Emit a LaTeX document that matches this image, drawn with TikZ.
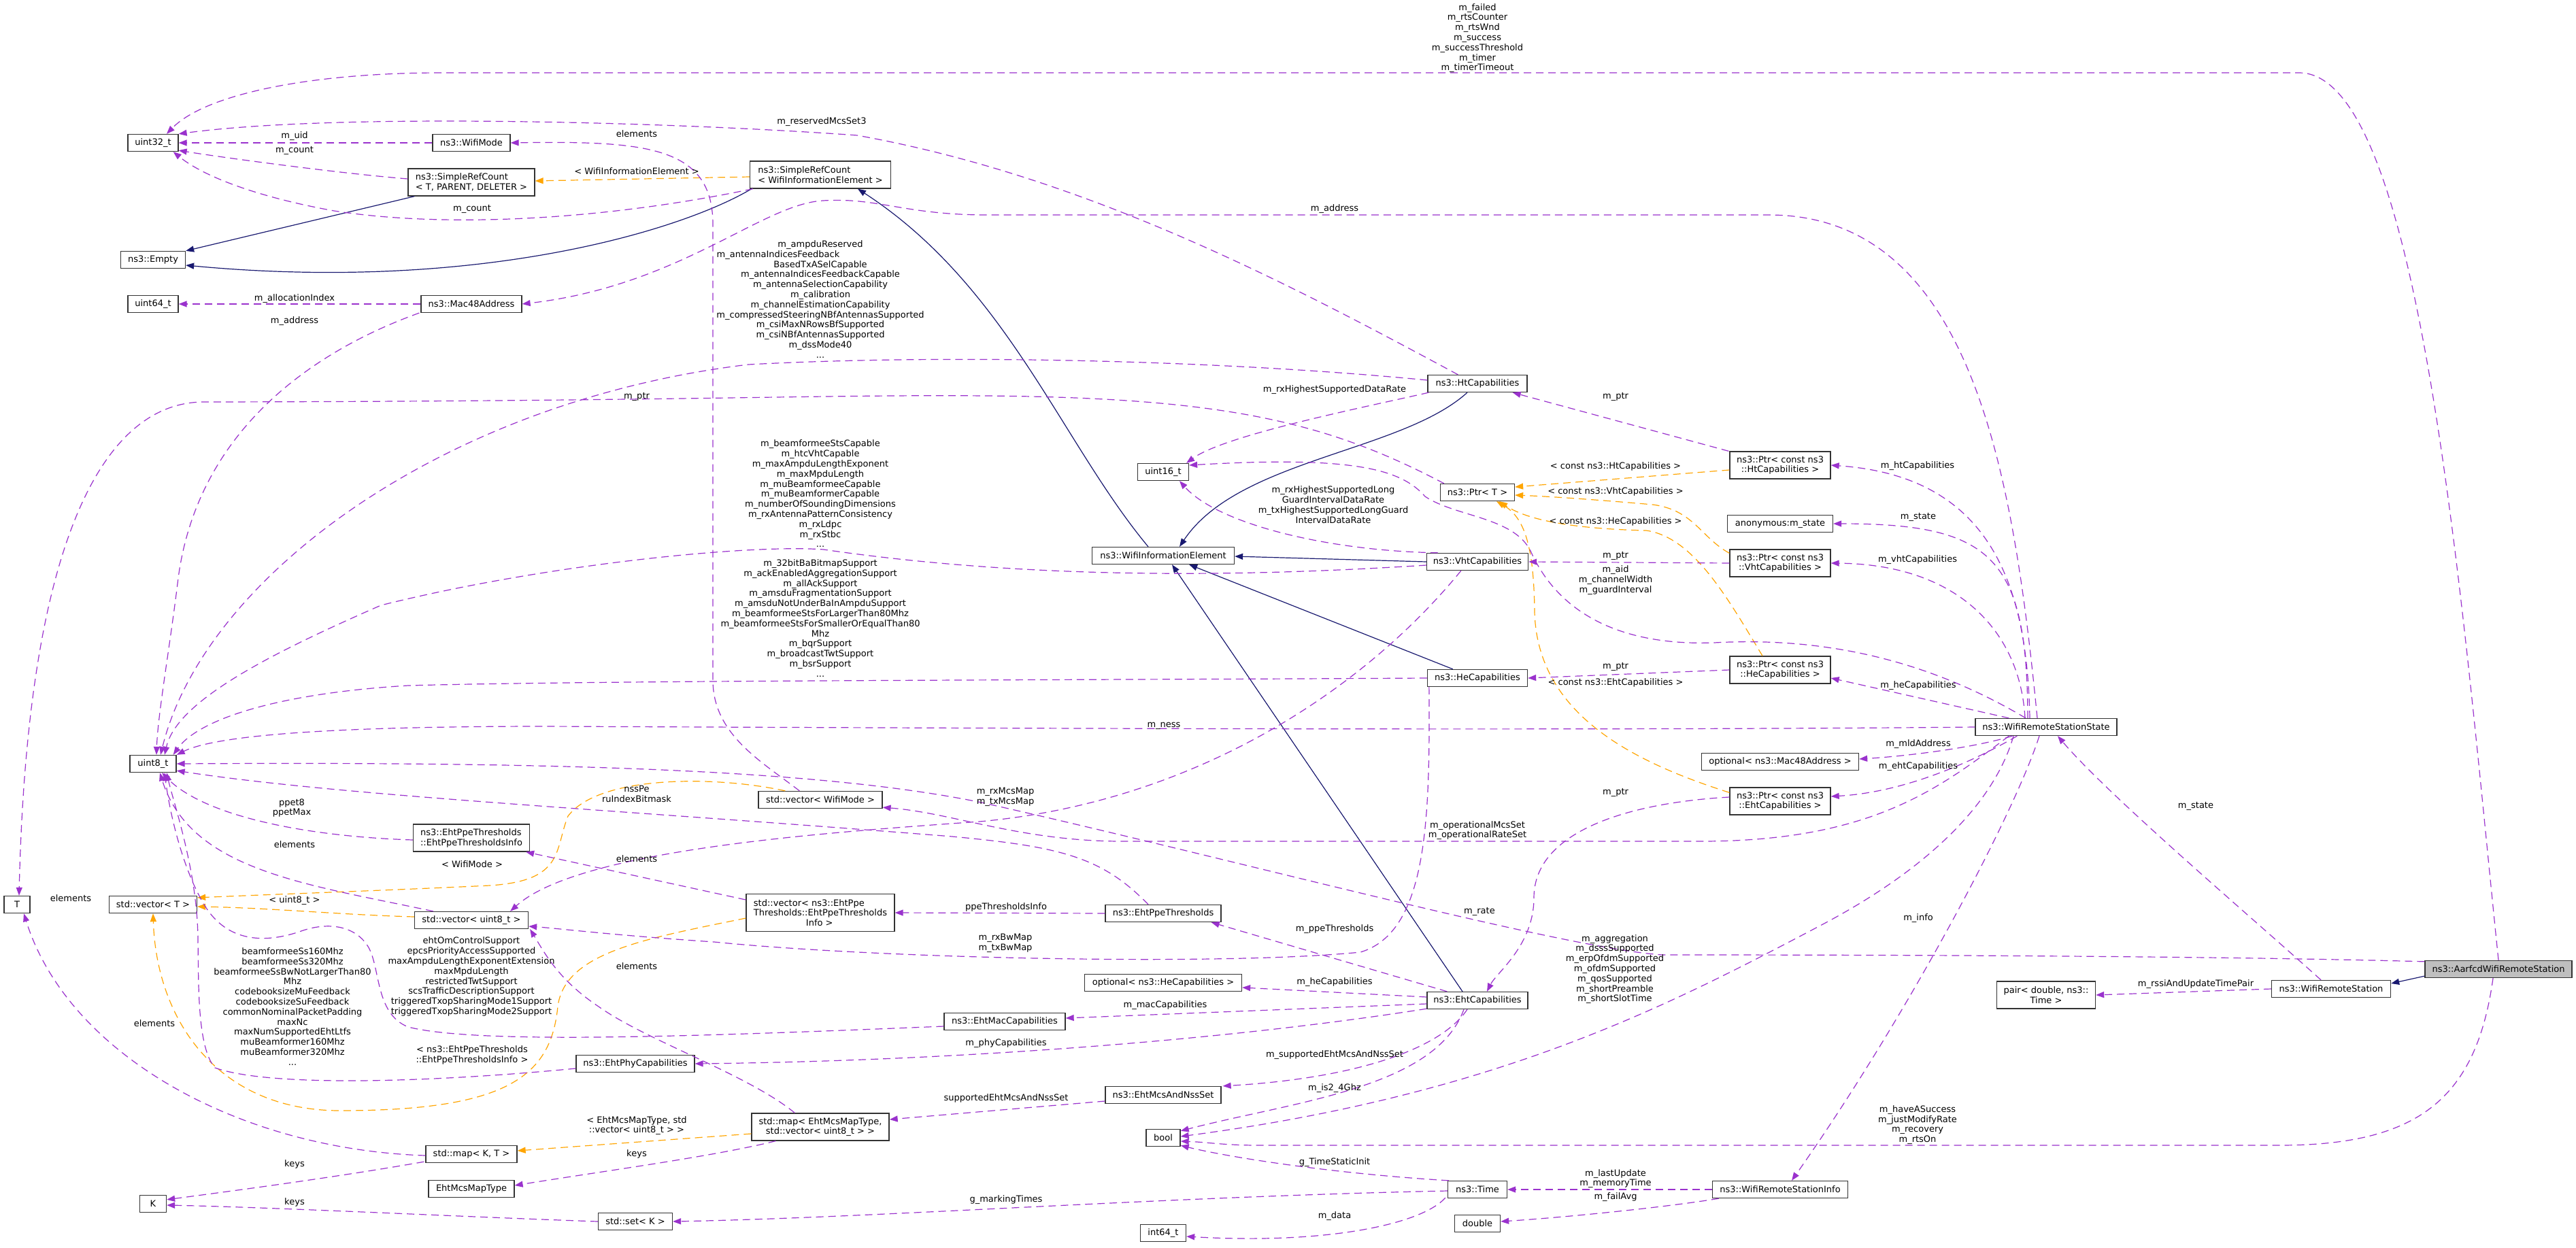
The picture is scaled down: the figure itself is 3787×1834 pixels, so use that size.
\documentclass[tikz,border=0pt]{standalone}
\usepackage{fontspec}
\setmainfont{DejaVu Sans}
\usetikzlibrary{arrows.meta,calc}
\definecolor{memcol}{HTML}{9A32CD}
\definecolor{tplcol}{HTML}{FFA500}
\definecolor{inhcol}{HTML}{191970}
\definecolor{boxfill}{HTML}{BFBFBF}
\newcommand{\fsz}{\fontsize{13}{14.8}\selectfont}

\begin{document}
\begin{tikzpicture}[x=1pt,y=-1pt]
\tikzset{
	cls/.style = {draw=black!80, line width=1.3pt, fill=white, inner xsep=4pt, inner ysep=0pt, minimum height=25pt, minimum width=#1, font=\fsz, align=center},
	cls2/.style = {cls=#1, minimum height=40pt},
	lbl/.style = {font=\fsz, align=center, inner sep=0pt},
	mem/.style = {draw=memcol, line width=1.2pt, dash pattern=on 11pt off 7pt, -{Triangle[length=12pt,width=9pt]}},
	tpl/.style = {mem, draw=tplcol},
	inh/.style = {draw=inhcol, line width=1.2pt, -{Triangle[length=12pt,width=9pt]}}
}
\fill[white] (0,0) rectangle (3787,1834);
\useasboundingbox (0,0) rectangle (3787,1834);

% classes
\node[cls=74pt] (u32) at (225,210) {uint32\_t};
\node[cls=114pt] (wmode) at (693,210) {ns3::WifiMode};
\node[cls2=186pt, align=left] (srctpd) at (693,268) {ns3::SimpleRefCount\\< T, PARENT, DELETER >};
\node[cls=95pt] (empty) at (225,382) {ns3::Empty};
\node[cls=74pt] (u64) at (225,447) {uint64\_t};
\node[cls=148pt] (mac) at (693,447) {ns3::Mac48Address};
\node[cls2=207pt, align=left] (srcwie) at (1206,257) {ns3::SimpleRefCount\\< WifiInformationElement >};
\node[cls=146pt] (htcap) at (2172,564) {ns3::HtCapabilities};
\node[cls=75pt] (u16) at (1710,694) {uint16\_t};
\node[cls=109pt] (ptrt) at (2172,724) {ns3::Ptr< T >};
\node[cls2=148pt] (ptrht) at (2617,684) {ns3::Ptr< const ns3\\::HtCapabilities >};
\node[cls=155pt] (anon) at (2617,770) {anonymous:m\_state};
\node[cls2=148pt] (ptrvht) at (2617,828) {ns3::Ptr< const ns3\\::VhtCapabilities >};
\node[cls=149pt] (vhtcap) at (2172,826) {ns3::VhtCapabilities};
\node[cls=209pt] (wie) at (1710,817) {ns3::WifiInformationElement};
\node[cls=147pt] (hecap) at (2172,997) {ns3::HeCapabilities};
\node[cls2=148pt] (ptrhe) at (2617,985) {ns3::Ptr< const ns3\\::HeCapabilities >};
\node[cls=208pt] (wrss) at (3008,1069) {ns3::WifiRemoteStationState};
\node[cls=231pt] (optmac) at (2617,1120) {optional< ns3::Mac48Address >};
\node[cls2=148pt] (ptreht) at (2617,1178) {ns3::Ptr< const ns3\\::EhtCapabilities >};
\node[cls=148pt] (ehtcap) at (2172,1471) {ns3::EhtCapabilities};
\node[cls=175pt] (wrs) at (3427,1454) {ns3::WifiRemoteStation};
\node[cls=216pt, fill=boxfill] (aarfcd) at (3673,1425) {ns3::AarfcdWifiRemoteStation};
\node[cls2=145pt] (pair) at (3008,1463) {pair< double, ns3::\\Time >};
\node[cls=199pt] (wrsinfo) at (2617,1749) {ns3::WifiRemoteStationInfo};
\node[cls=87pt] (time) at (2172,1749) {ns3::Time};
\node[cls=67pt] (double) at (2172,1799) {double};
\node[cls=67pt] (i64) at (1710,1813) {int64\_t};
\node[cls=50pt] (bool) at (1710,1673) {bool};
\node[cls=170pt] (mcsnss) at (1710,1610) {ns3::EhtMcsAndNssSet};
\node[cls=231pt] (opthe) at (1710,1445) {optional< ns3::HeCapabilities >};
\node[cls=170pt] (ppe) at (1710,1343) {ns3::EhtPpeThresholds};
\node[cls=178pt] (ehtmac) at (1477,1502) {ns3::EhtMacCapabilities};
\node[cls=218pt, minimum height=55pt, align=left] (vecppe) at (1206,1342) {std::vector< ns3::EhtPpe\\Thresholds::EhtPpeThresholds\\\hspace*{77pt}Info >};
\node[cls2=202pt] (mapeht) at (1206,1657) {std::map< EhtMcsMapType,\\std::vector< uint8\_t > >};
\node[cls=182pt] (vecwm) at (1206,1176) {std::vector< WifiMode >};
\node[cls=174pt] (ehtphy) at (934,1564) {ns3::EhtPhyCapabilities};
\node[cls=167pt] (vecu8) at (693,1353) {std::vector< uint8\_t >};
\node[cls2=171pt, align=left] (ppeinfo) at (693,1232) {ns3::EhtPpeThresholds\\::EhtPpeThresholdsInfo};
\node[cls=68pt] (u8) at (225,1123) {uint8\_t};
\node[cls=38pt] (T) at (25,1330) {T};
\node[cls=129pt] (vect) at (225,1330) {std::vector< T >};
\node[cls=134pt] (mapkt) at (693,1697) {std::map< K, T >};
\node[cls=126pt] (mcstype) at (693,1748) {EhtMcsMapType};
\node[cls=39pt] (K) at (225,1770) {K};
\node[cls=109pt] (setk) at (934,1796) {std::set< K >};

% inheritance
\draw[inh] ($(srctpd.south west)+(10,0)$) -- (empty.north east);
\draw[inh] ($(srcwie.south west)+(3,0)$) .. controls (1000,340) and (700,430) .. ($(empty.east)+(0,8)$);
\draw[inh] ($(wie.north)+(-22,0)$) .. controls (1560,650) and (1480,420) .. ($(srcwie.south)+(55,0)$);
\draw[inh] ($(htcap.south)+(-15,0)$) .. controls (2060,665) and (1820,675) .. ($(wie.north)+(24,0)$);
\draw[inh] (vhtcap.west) -- ($(wie.east)+(0,1)$);
\draw[inh] ($(hecap.north west)+(38,0)$) -- ($(wie.south east)+(-67,0)$);
\draw[inh] ($(ehtcap.north)+(-22,0)$) -- ($(wie.south)+(13,0)$);
\draw[inh] ($(aarfcd.south west)+(0,-3)$) -- ($(wrs.east)+(0,-8)$);

% template instances
\draw[tpl] ($(srcwie.west)+(0,3)$) -- ($(srctpd.east)+(0,-2)$);
\draw[tpl] ($(ptrht.west)+(0,7)$) -- ($(ptrt.east)+(0,-8)$);
\draw[tpl] ($(ptrvht.north west)+(0,6)$) .. controls (2500,790) and (2490,750) .. (2430,742) .. controls (2350,735) and (2280,730) .. ($(ptrt.east)+(0,4)$);
\draw[tpl] ($(ptrhe.north)+(-26,0)$) .. controls (2540,880) and (2490,790) .. (2420,780) .. controls (2330,778) and (2250,768) .. ($(ptrt.south east)+(-23,0)$);
\draw[tpl] ($(ptreht.north west)+(0,8)$) .. controls (2400,1120) and (2260,1050) .. (2256,900) .. controls (2255,800) and (2240,760) .. ($(ptrt.south)+(28,0)$);
\draw[tpl] ($(vecwm.north west)+(40,0)$) .. controls (1050,1140) and (880,1140) .. (835,1200) .. controls (815,1250) and (830,1295) .. (720,1302) .. controls (550,1310) and (400,1315) .. ($(vect.north east)+(0,3)$);
\draw[tpl] ($(vecu8.west)+(0,-5)$) .. controls (500,1345) and (400,1335) .. ($(vect.east)+(0,3)$);
\draw[tpl] ($(vecppe.west)+(0,8)$) .. controls (950,1380) and (830,1400) .. (820,1480) .. controls (810,1580) and (750,1633) .. (500,1633) .. controls (320,1633) and (230,1500) .. (vect.south);
\draw[tpl] ($(mapeht.west)+(0,10)$) -- ($(mapkt.east)+(0,-5)$);

% members
\draw[mem] (wmode.west) -- (u32.east);
\draw[mem] ($(srctpd.west)+(0,-5)$) .. controls (500,255) and (330,232) .. ($(u32.south east)+(0,-2)$);
\draw[mem] ($(srcwie.south west)+(5,0)$) .. controls (880,325) and (650,335) .. (491,310) .. controls (380,290) and (300,260) .. ($(u32.south east)+(-8,0)$);
\draw[mem] ($(htcap.north west)+(45,0)$) .. controls (1900,420) and (1600,260) .. (1260,199) .. controls (1000,180) and (500,165) .. (u32.north east);
\draw[mem] (aarfcd.north) .. controls (3620,900) and (3560,107) .. (3380,107) -- (650,107) .. controls (450,107) and (300,140) .. ($(u32.north)+(20,0)$);
\draw[mem] ($(vecwm.north west)+(61,0)$) .. controls (1120,1120) and (1048,1080) .. (1048,1000) -- (1048,330) .. controls (1048,215) and (950,207) .. (wmode.east);
\draw[mem] (mac.west) -- (u64.east);
\draw[mem] ($(mac.south west)+(-2,0)$) .. controls (450,520) and (290,640) .. (262,850) .. controls (250,950) and (232,1050) .. ($(u8.north)+(5,0)$);
\draw[mem] ($(htcap.west)+(0,-5)$) .. controls (1800,530) and (1400,520) .. (1100,536) .. controls (650,590) and (300,850) .. ($(u8.north)+(11,0)$);
\draw[mem] ($(htcap.south west)+(2,0)$) .. controls (2000,600) and (1800,640) .. ($(u16.north east)+(-4,0)$);
\draw[mem] ($(ptrht.north west)+(-1,0)$) -- ($(htcap.south east)+(-22,0)$);
\draw[mem] ($(ptrt.north west)+(6,0)$) .. controls (1950,620) and (1800,585) .. (1450,582) .. controls (1200,580) and (1000,590) .. (300,591) .. controls (150,591) and (40,800) .. ($(T.north)+(3,0)$);
\draw[mem] (ptrvht.west) -- (vhtcap.east);
\draw[mem] (ptrhe.west) -- (hecap.east);
\draw[mem] ($(ptreht.west)+(0,-6)$) .. controls (2400,1180) and (2255,1220) .. (2255,1320) .. controls (2255,1390) and (2200,1430) .. ($(ehtcap.north)+(14,0)$);
\draw[mem] ($(wrss.north)+(-24,0)$) .. controls (2980,850) and (2920,700) .. (ptrht.east);
\draw[mem] ($(wrss.north)+(-27,0)$) .. controls (2980,820) and (2930,770) .. (anon.east);
\draw[mem] ($(wrss.north)+(-31,0)$) .. controls (2970,930) and (2880,830) .. (ptrvht.east);
\draw[mem] ($(wrss.north west)+(50,0)$) -- ($(ptrhe.east)+(0,12)$);
\draw[mem] ($(wrss.south west)+(55,0)$) .. controls (2900,1100) and (2800,1112) .. ($(optmac.east)+(0,-4)$);
\draw[mem] ($(wrss.south west)+(62,0)$) .. controls (2900,1120) and (2800,1165) .. ($(ptreht.east)+(0,-7)$);
\draw[mem] (wrss.west) .. controls (2300,1075) and (1300,1070) .. (800,1068) .. controls (500,1068) and (320,1080) .. (u8.north east);
\draw[mem] ($(wrss.north)+(-30,0)$) .. controls (2850,980) and (2700,935) .. (2520,945) .. controls (2380,950) and (2290,900) .. (2250,810) .. controls (2225,760) and (2140,760) .. (2095,730) .. controls (2060,690) and (1990,670) .. ($(u16.east)+(0,-10)$);
\draw[mem] ($(vhtcap.north west)+(17,0)$) .. controls (1950,810) and (1790,770) .. ($(u16.south)+(24,0)$);
\draw[mem] ($(vhtcap.west)+(0,5)$) .. controls (1800,850) and (1500,850) .. (1211,808) .. controls (1100,800) and (800,830) .. (560,890) .. controls (400,960) and (260,1030) .. ($(u8.north)+(17,0)$);
\draw[mem] (hecap.west) .. controls (1600,1000) and (900,1000) .. (600,1008) .. controls (400,1020) and (290,1060) .. ($(u8.north east)+(-5,0)$);
\draw[mem] ($(vhtcap.south west)+(51,0)$) .. controls (2000,1020) and (1750,1180) .. (1440,1208) .. controls (1200,1225) and (850,1250) .. ($(vecu8.north east)+(-27,0)$);
\draw[mem] ($(hecap.south west)+(3,0)$) .. controls (2102,1200) and (2100,1370) .. (2000,1400) .. controls (1800,1420) and (1300,1410) .. (1050,1385) .. controls (900,1375) and (820,1365) .. ($(vecu8.east)+(0,9)$);
\draw[mem] ($(ppe.north)+(-22,0)$) .. controls (1620,1260) and (1560,1245) .. (1400,1230) .. controls (900,1190) and (500,1170) .. ($(u8.south east)+(0,-3)$);
\draw[mem] ($(aarfcd.north west)+(0,2)$) .. controls (3200,1404) and (2600,1404) .. (2444,1404) .. controls (2300,1395) and (1800,1260) .. (1443,1180) .. controls (1200,1130) and (800,1120) .. (u8.east);
\draw[mem] ($(wrss.south)+(-48,0)$) .. controls (2935,1170) and (2850,1270) .. (2674,1362) .. controls (2450,1480) and (2200,1610) .. ($(bool.east)+(0,-2)$);
\draw[mem] ($(aarfcd.south)+(-8,0)$) .. controls (3640,1620) and (3550,1684) .. (3350,1684) -- (1850,1684) .. controls (1800,1684) and (1770,1679) .. ($(bool.east)+(0,5)$);
\draw[mem] ($(wrs.north)+(-15,0)$) .. controls (3300,1340) and (3100,1170) .. ($(wrss.south)+(17,0)$);
\draw[mem] (wrs.west) -- (pair.east);
\draw[mem] ($(wrss.south)+(-10,0)$) .. controls (2960,1200) and (2800,1500) .. ($(wrsinfo.north)+(17,0)$);
\draw[mem] ($(wrss.south west)+(50,0)$) .. controls (2850,1160) and (2750,1237) .. (2500,1237) -- (1650,1237) .. controls (1500,1237) and (1400,1195) .. ($(vecwm.south east)+(0,-2)$);
\draw[mem] ($(wrss.north)+(-13,0)$) .. controls (2960,700) and (2900,316) .. (2600,316) -- (1450,316) .. controls (1330,316) and (1290,290) .. (1210,295) .. controls (1120,300) and (1000,420) .. (mac.east);
\draw[mem] ($(ehtcap.north west)+(30,0)$) -- ($(ppe.south east)+(-15,0)$);
\draw[mem] ($(ehtcap.west)+(0,-5)$) -- ($(opthe.east)+(0,7)$);
\draw[mem] ($(ehtcap.west)+(0,5)$) -- ($(ehtmac.east)+(0,-5)$);
\draw[mem] ($(ehtcap.south west)+(0,-1)$) .. controls (1800,1530) and (1400,1560) .. (ehtphy.east);
\draw[mem] ($(ehtcap.south)+(-15,0)$) .. controls (2120,1540) and (2000,1585) .. ($(mcsnss.north east)+(2,0)$);
\draw[mem] ($(ehtcap.south)+(-20,0)$) .. controls (2110,1600) and (1900,1620) .. ($(bool.north east)+(0,3)$);
\draw[mem] ($(mcsnss.west)+(0,9)$) -- ($(mapeht.east)+(0,-11)$);
\draw[mem] (ppe.west) -- (vecppe.east);
\draw[mem] ($(vecppe.west)+(0,-19)$) -- ($(ppeinfo.south east)+(-6,0)$);
\draw[mem] ($(ppeinfo.west)+(0,3)$) .. controls (450,1230) and (300,1200) .. ($(u8.south)+(13,0)$);
\draw[mem] ($(vecu8.north west)+(28,0)$) .. controls (450,1300) and (280,1280) .. ($(u8.south)+(10,0)$);
\draw[mem] ($(mapeht.south west)+(36,0)$) .. controls (1050,1700) and (900,1720) .. ($(mcstype.east)+(0,-5)$);
\draw[mem] ($(mapeht.north west)+(64,0)$) .. controls (1100,1580) and (950,1530) .. (880,1480) .. controls (820,1440) and (800,1400) .. ($(vecu8.south east)+(2,0)$);
\draw[mem] ($(mapkt.west)+(0,2)$) .. controls (350,1690) and (100,1550) .. ($(T.south)+(10,0)$);
\draw[mem] ($(mapkt.south west)+(-2,-2)$) .. controls (500,1730) and (350,1750) .. ($(K.north east)+(0,7)$);
\draw[mem] (setk.west) .. controls (700,1790) and (400,1775) .. ($(K.east)+(0,2)$);
\draw[mem] ($(time.west)+(0,2)$) .. controls (1700,1760) and (1300,1790) .. (setk.east);
\draw[mem] ($(time.north west)+(2,0)$) .. controls (1950,1725) and (1800,1700) .. ($(bool.south east)+(0,-2)$);
\draw[mem] ($(time.south west)+(-3,-1)$) .. controls (2090,1800) and (1950,1830) .. ($(i64.east)+(0,5)$);
\draw[mem] (wrsinfo.west) -- (time.east);
\draw[mem] ($(wrsinfo.south west)+(10,0)$) .. controls (2450,1775) and (2300,1790) .. ($(double.east)+(0,-3)$);
\draw[mem] ($(ehtmac.west)+(0,7)$) .. controls (1000,1525) and (700,1535) .. (600,1510) .. controls (550,1490) and (560,1420) .. (540,1390) .. controls (520,1360) and (480,1355) .. (440,1370) .. controls (380,1390) and (330,1380) .. (300,1330) .. controls (270,1280) and (250,1200) .. ($(u8.south)+(17,0)$);
\draw[mem] ($(ehtphy.west)+(0,7)$) .. controls (650,1590) and (400,1600) .. (316,1570) .. controls (290,1540) and (292,1450) .. (291,1380) .. controls (290,1280) and (255,1180) .. ($(u8.south)+(20,0)$);

% edge labels
\node[lbl] (lUid) at (433,200) {m\_uid};
\node[lbl] (lCount1) at (433,221) {m\_count};
\node[lbl] (lCount2) at (694,307) {m\_count};
\node[lbl] (lMcsSet) at (1208,179) {m\_reservedMcsSet3};
\node[lbl] (lAarfcdU32) at (2172,56) {m\_failed\\m\_rtsCounter\\m\_rtsWnd\\m\_success\\m\_successThreshold\\m\_timer\\m\_timerTimeout};
\node[lbl] (lElemWm) at (936,197) {elements};
\node[lbl] (lTplWie) at (936,252) {< WifiInformationElement >};
\node[lbl] (lAlloc) at (433,439) {m\_allocationIndex};
\node[lbl] (lAddrMac) at (433,472) {m\_address};
\node[lbl] (lAddrWrss) at (1962,307) {m\_address};
\node[lbl] (lHtU8) at (1206,440) {m\_ampduReserved\\\hspace*{-124pt}m\_antennaIndicesFeedback\\BasedTxASelCapable\\m\_antennaIndicesFeedbackCapable\\m\_antennaSelectionCapability\\m\_calibration\\m\_channelEstimationCapability\\m\_compressedSteeringNBfAntennasSupported\\m\_csiMaxNRowsBfSupported\\m\_csiNBfAntennasSupported\\m\_dssMode40\\...};
\node[lbl] (lHtU16) at (1962,573) {m\_rxHighestSupportedDataRate};
\node[lbl] (lPtrHt) at (2375,583) {m\_ptr};
\node[lbl] (lPtrT) at (936,583) {m\_ptr};
\node[lbl] (lHtCaps) at (2819,685) {m\_htCapabilities};
\node[lbl] (lTplHt) at (2375,686) {< const ns3::HtCapabilities >};
\node[lbl] (lTplVht) at (2375,723) {< const ns3::VhtCapabilities >};
\node[lbl] (lTplHe) at (2375,767) {< const ns3::HeCapabilities >};
\node[lbl] (lState1) at (2820,760) {m\_state};
\node[lbl] (lVhtU16) at (1960,742) {m\_rxHighestSupportedLong\\GuardIntervalDataRate\\m\_txHighestSupportedLongGuard\\IntervalDataRate};
\node[lbl] (lVhtU8) at (1206,726) {m\_beamformeeStsCapable\\m\_htcVhtCapable\\m\_maxAmpduLengthExponent\\m\_maxMpduLength\\m\_muBeamformeeCapable\\m\_muBeamformerCapable\\m\_numberOfSoundingDimensions\\m\_rxAntennaPatternConsistency\\m\_rxLdpc\\m\_rxStbc\\...};
\node[lbl] (lPtrVht) at (2375,817) {m\_ptr};
\node[lbl] (lVhtCaps) at (2819,823) {m\_vhtCapabilities};
\node[lbl] (lAid) at (2375,853) {m\_aid\\m\_channelWidth\\m\_guardInterval};
\node[lbl] (lHeU8) at (1206,909) {m\_32bitBaBitmapSupport\\m\_ackEnabledAggregationSupport\\m\_allAckSupport\\m\_amsduFragmentationSupport\\m\_amsduNotUnderBaInAmpduSupport\\m\_beamformeeStsForLargerThan80Mhz\\m\_beamformeeStsForSmallerOrEqualThan80\\Mhz\\m\_bqrSupport\\m\_broadcastTwtSupport\\m\_bsrSupport\\...};
\node[lbl] (lPtrHe) at (2375,980) {m\_ptr};
\node[lbl] (lTplEht) at (2375,1004) {< const ns3::EhtCapabilities >};
\node[lbl] (lHeCaps1) at (2820,1008) {m\_heCapabilities};
\node[lbl] (lNess) at (1711,1067) {m\_ness};
\node[lbl] (lMld) at (2820,1094) {m\_mldAddress};
\node[lbl] (lEhtCaps) at (2820,1127) {m\_ehtCapabilities};
\node[lbl] (lNssPe) at (936,1167) {nssPe\\ruIndexBitmask};
\node[lbl] (lPtrEht) at (2375,1165) {m\_ptr};
\node[lbl] (lMcsMap) at (1478,1172) {m\_rxMcsMap\\m\_txMcsMap};
\node[lbl] (lPpet) at (429,1188) {ppet8\\ppetMax};
\node[lbl] (lOper) at (2172,1221) {m\_operationalMcsSet\\m\_operationalRateSet};
\node[lbl] (lState2) at (3228,1185) {m\_state};
\node[lbl] (lElemU8) at (433,1242) {elements};
\node[lbl] (lElemPpe) at (936,1263) {elements};
\node[lbl] (lTplWm) at (694,1271) {< WifiMode >};
\node[lbl] (lElemT) at (104,1321) {elements};
\node[lbl] (lTplU8) at (433,1324) {< uint8\_t >};
\node[lbl] (lPpeInfo) at (1479,1334) {ppeThresholdsInfo};
\node[lbl] (lRate) at (2175,1340) {m\_rate};
\node[lbl] (lInfo) at (2820,1350) {m\_info};
\node[lbl] (lPpeThr) at (1962,1366) {m\_ppeThresholds};
\node[lbl] (lBwMap) at (1478,1387) {m\_rxBwMap\\m\_txBwMap};
\node[lbl] (lMacU8) at (693,1436) {ehtOmControlSupport\\epcsPriorityAccessSupported\\maxAmpduLengthExponentExtension\\maxMpduLength\\restrictedTwtSupport\\scsTrafficDescriptionSupport\\triggeredTxopSharingMode1Support\\triggeredTxopSharingMode2Support};
\node[lbl] (lElemMap) at (936,1421) {elements};
\node[lbl] (lAggr) at (2374,1425) {m\_aggregation\\m\_dsssSupported\\m\_erpOfdmSupported\\m\_ofdmSupported\\m\_qosSupported\\m\_shortPreamble\\m\_shortSlotTime};
\node[lbl] (lHeCaps2) at (1962,1444) {m\_heCapabilities};
\node[lbl] (lRssi) at (3228,1447) {m\_rssiAndUpdateTimePair};
\node[lbl] (lMacCaps) at (1713,1478) {m\_macCapabilities};
\node[lbl] (lPhyU8) at (430,1480) {beamformeeSs160Mhz\\beamformeeSs320Mhz\\beamformeeSsBwNotLargerThan80\\Mhz\\codebooksizeMuFeedback\\codebooksizeSuFeedback\\commonNominalPacketPadding\\maxNc\\maxNumSupportedEhtLtfs\\muBeamformer160Mhz\\muBeamformer320Mhz\\...};
\node[lbl] (lElemKT) at (227,1505) {elements};
\node[lbl] (lPhyCaps) at (1479,1534) {m\_phyCapabilities};
\node[lbl] (lTplPpe) at (694,1551) {< ns3::EhtPpeThresholds\\::EhtPpeThresholdsInfo >};
\node[lbl] (lSupSet) at (1962,1551) {m\_supportedEhtMcsAndNssSet};
\node[lbl] (lIs24) at (1962,1600) {m\_is2\_4Ghz};
\node[lbl] (lSupSet2) at (1479,1615) {supportedEhtMcsAndNssSet};
\node[lbl] (lTplMap) at (936,1655) {< EhtMcsMapType, std\\::vector< uint8\_t > >};
\node[lbl] (lHave) at (2819,1654) {m\_haveASuccess\\m\_justModifyRate\\m\_recovery\\m\_rtsOn};
\node[lbl] (lKeys1) at (936,1697) {keys};
\node[lbl] (lStatic) at (1962,1709) {g\_TimeStaticInit};
\node[lbl] (lKeys2) at (433,1712) {keys};
\node[lbl] (lLast) at (2375,1733) {m\_lastUpdate\\m\_memoryTime};
\node[lbl] (lFail) at (2375,1760) {m\_failAvg};
\node[lbl] (lMark) at (1479,1764) {g\_markingTimes};
\node[lbl] (lKeys3) at (433,1768) {keys};
\node[lbl] (lData) at (1962,1788) {m\_data};
\end{tikzpicture}
\end{document}
